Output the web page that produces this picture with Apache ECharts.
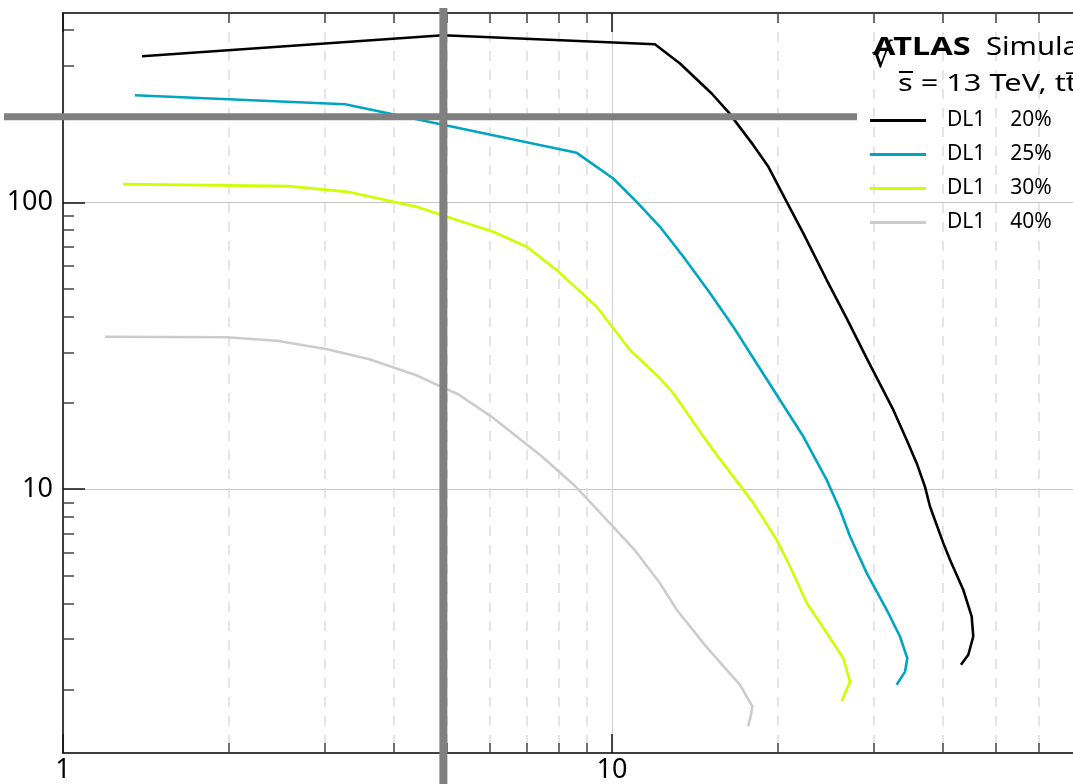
<!DOCTYPE html>
<html>
<head>
<meta charset="utf-8">
<script src="https://cdn.jsdelivr.net/npm/echarts@6/dist/echarts.min.js"></script>
<style>
  html, body { margin: 0; padding: 0; background: #ffffff; }
  #chart { width: 1073px; height: 784px; }
</style>
</head>
<body>
<div id="chart"></div>
<script>
// ---- data ----
const seriesNames = ['DL1 20%', 'DL1 25%', 'DL1 30%', 'DL1 40%'];
const seriesColors = ['#000000', '#00a5c2', '#ccff00', '#cccccc'];

const x20 = [1.393, 4.923, 11.97, 13.30, 15.19, 16.28, 18.09, 19.27, 20.81, 22.31, 24.61, 26.76, 29.11, 32.54, 34.42, 35.89, 37.16, 37.95, 40.13, 41.27, 43.63, 45.20, 45.50, 44.57, 43.22];
const y20 = [323.5, 382.7, 356.0, 305.0, 239.8, 206.9, 158.4, 133.1, 100.5, 77.98, 53.62, 39.43, 28.60, 18.89, 14.85, 12.32, 10.21, 8.698, 6.484, 5.671, 4.459, 3.598, 3.064, 2.646, 2.442];

const x25 = [1.352, 3.264, 8.625, 10.05, 11.09, 12.23, 13.49, 15.09, 16.63, 18.09, 20.23, 22.31, 24.61, 26.02, 27.14, 29.11, 31.65, 33.46, 34.51, 34.18, 33.00];
const y25 = [236.5, 220.0, 148.9, 121.2, 100.5, 82.23, 64.64, 48.18, 36.87, 28.60, 20.47, 15.26, 10.77, 8.472, 6.836, 5.097, 3.797, 3.064, 2.571, 2.311, 2.080];

const x30 = [1.286, 2.570, 3.333, 4.410, 5.001, 6.077, 6.993, 7.931, 9.378, 10.78, 12.23, 12.93, 14.67, 15.51, 17.35, 18.09, 19.95, 21.10, 22.63, 24.61, 26.38, 27.14, 26.20];
const y30 = [115.8, 114.0, 108.6, 96.5, 89.1, 78.99, 70.03, 58.07, 43.27, 30.58, 24.37, 21.60, 15.26, 13.17, 9.945, 8.938, 6.658, 5.374, 4.007, 3.150, 2.571, 2.133, 1.820];

const x40 = [1.192, 1.984, 2.452, 3.029, 3.614, 4.390, 4.879, 5.236, 6.030, 7.455, 8.585, 9.975, 10.99, 12.22, 13.12, 14.83, 17.09, 18.02, 17.86, 17.70];
const y40 = [34.02, 33.86, 32.95, 30.74, 28.38, 25.02, 22.79, 21.48, 17.91, 12.99, 10.21, 7.509, 6.144, 4.705, 3.797, 2.829, 2.080, 1.747, 1.593, 1.489];

const xValues = [x20, x25, x30, x40];
const yValues = [y20, y25, y30, y40];

// axis ranges and tick positions
const xRange = [1, 100];
const yRange = [1.202, 457.7];
const xMajorTicks = [1, 10, 100];
const xMinorTicks = [2, 3, 4, 5, 6, 7, 8, 9, 20, 30, 40, 50, 60, 70, 80, 90];
const xTickLabels = [1, 10];
const yMajorTicks = [10, 100];
const yMinorTicks = [2, 3, 4, 5, 6, 7, 8, 9, 20, 30, 40, 50, 60, 70, 80, 90, 200, 300, 400];
const yTickLabels = [10, 100];

// reference cross-hair
const crossX = 4.93;
const crossY = 199;

// ---- chart ----
const FONT = '"Noto Sans", sans-serif';
const chart = echarts.init(document.getElementById('chart'), null, { renderer: 'canvas' });

const axisLineStyle = { color: '#333333', width: 1.5 };

function xAxisDef(position, major, showLabels) {
  return {
    type: 'log', logBase: 10, position: position,
    min: xRange[0], max: xRange[1],
    axisLine: { show: true, onZero: false, lineStyle: axisLineStyle },
    axisTick: {
      show: true, inside: true, length: major ? 19 : 10,
      customValues: major ? xMajorTicks : xMinorTicks,
      lineStyle: { color: major ? '#111111' : '#444444', width: 1.5 }
    },
    minorTick: { show: false },
    axisLabel: showLabels ? {
      show: true, customValues: xTickLabels, margin: 4,
      fontFamily: FONT, fontSize: 27, color: '#000000',
      formatter: v => String(v)
    } : { show: false },
    splitLine: position === 'bottom' ? (major
      ? { show: true, lineStyle: { color: '#d4d4d4', width: 1.2 } }
      : { show: true, lineStyle: { color: '#dddddd', width: 1.5, type: [10, 9] } })
      : { show: false }
  };
}

function yAxisDef(major) {
  return {
    type: 'log', logBase: 10, position: 'left',
    min: yRange[0], max: yRange[1],
    axisLine: { show: true, onZero: false, lineStyle: axisLineStyle },
    axisTick: {
      show: true, inside: true, length: major ? 22 : 11,
      customValues: major ? yMajorTicks : yMinorTicks,
      lineStyle: { color: major ? '#111111' : '#444444', width: 1.5 }
    },
    minorTick: { show: false },
    axisLabel: major ? {
      show: true, customValues: yTickLabels, margin: 10,
      fontFamily: FONT, fontSize: 27, color: '#000000',
      formatter: v => String(v)
    } : { show: false },
    splitLine: major
      ? { show: true, lineStyle: { color: '#c4c4c4', width: 1.2 } }
      : { show: false }
  };
}

const series = seriesNames.map((name, i) => ({
  name: name,
  type: 'line',
  xAxisIndex: 0,
  yAxisIndex: 0,
  data: xValues[i].map((x, j) => [x, yValues[i][j]]),
  symbol: 'none',
  smooth: false,
  animation: false,
  color: seriesColors[i],
  lineStyle: { color: seriesColors[i], width: 2.6 },
  z: 3
}));

chart.setOption({
  animation: false,
  backgroundColor: '#ffffff',
  // the plot runs past the right edge of the canvas
  grid: { left: 63, top: 13, width: 1098, bottom: 31, containLabel: false, outerBoundsMode: 'none' },
  xAxis: [
    xAxisDef('bottom', true, true),
    xAxisDef('bottom', false, false),
    xAxisDef('top', true, false),
    xAxisDef('top', false, false)
  ],
  yAxis: [yAxisDef(true), yAxisDef(false)],
  legend: {
    orient: 'vertical',
    left: 870, top: 110,
    padding: 0,
    icon: 'rect',
    itemWidth: 56, itemHeight: 3, itemGap: 13,
    data: seriesNames,
    formatter: name => {
      const parts = name.split(' ');
      return '{a|' + parts[0] + '}{b|' + parts[1] + '}';
    },
    textStyle: {
      fontFamily: FONT, fontSize: 21, color: '#000000',
      rich: {
        a: { fontFamily: FONT, fontSize: 21, color: '#000000', padding: [0, 0, 0, 16] },
        b: { fontFamily: FONT, fontSize: 21, color: '#000000', padding: [0, 0, 0, 25] }
      }
    },
    selectedMode: false
  },
  series: series
});

// overlay: cross-hair lines and the header text
const px = chart.convertToPixel({ xAxisIndex: 0 }, crossX);
const py = chart.convertToPixel({ yAxisIndex: 0 }, crossY);

chart.setOption({
  graphic: [
    { type: 'line', z: 50, shape: { x1: px, y1: 8, x2: px, y2: 784 }, style: { stroke: '#808080', lineWidth: 8 } },
    { type: 'line', z: 50, shape: { x1: 4, y1: py, x2: 857, y2: py }, style: { stroke: '#808080', lineWidth: 7 } },
    { type: 'text', z: 60, x: 873, y: 48, scaleX: 1.3, originX: 0, originY: 0,
      style: { text: 'ATLAS', font: 'bold 25px ' + FONT, fill: '#000000', verticalAlign: 'middle' } },
    { type: 'text', z: 60, x: 986, y: 48, scaleX: 1.17, originX: 0, originY: 0,
      style: { text: 'Simulation', font: '25px ' + FONT, fill: '#000000', verticalAlign: 'middle' } },
    { type: 'text', z: 61, x: 871, y: 58,
      style: { text: '\u221A', font: '34px "DejaVu Sans"', fill: '#000000', verticalAlign: 'middle' } },
    { type: 'line', z: 61, shape: { x1: 899, y1: 72, x2: 913, y2: 72 }, style: { stroke: '#000000', lineWidth: 2 } },
    { type: 'text', z: 60, x: 898, y: 84, scaleX: 1.28, originX: 0, originY: 0,
      style: { text: 's = 13 TeV, tt\u0304', font: '24px ' + FONT, fill: '#000000', verticalAlign: 'middle' } }
  ]
});
</script>
</body>
</html>
